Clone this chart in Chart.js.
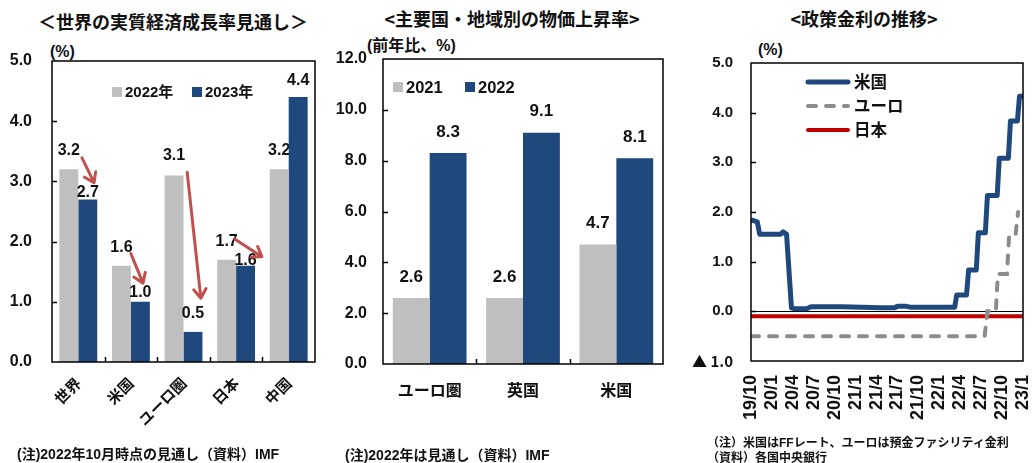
<!DOCTYPE html>
<html lang="ja">
<head>
<meta charset="utf-8">
<title>世界経済・物価・政策金利</title>
<script src="https://cdn.jsdelivr.net/npm/chart.js@4"></script>
<style>
  html, body { margin: 0; padding: 0; background: #fff; }
  body {
    width: 1032px; height: 463px; position: relative; overflow: hidden;
    font-family: "Liberation Sans", "Noto Sans CJK JP", sans-serif;
    font-weight: bold; color: #111;
  }
  .t { position: absolute; white-space: nowrap; line-height: 1; }
  .title { font-family: "Noto Sans CJK JP", sans-serif; font-size: 18px; transform: translateX(-50%); }
  canvas { position: absolute; }
</style>
</head>
<body>

<div class="t title" style="left:173px;top:12px">＜世界の実質経済成長率見通し＞</div>
<div class="t title" style="left:512px;top:9px">&lt;主要国・地域別の物価上昇率&gt;</div>
<div class="t title" style="left:864px;top:9px">&lt;政策金利の推移&gt;</div>

<div class="t" style="left:50px;top:44px;font-size:16px">(%)</div>
<div class="t" style="left:367px;top:38px;font-size:16px">(前年比、%)</div>
<div class="t" style="left:758px;top:42px;font-size:16px">(%)</div>

<canvas id="c-growth" width="330" height="420" style="left:0;top:40px"></canvas>
<canvas id="c-cpi" width="347" height="420" style="left:333px;top:40px"></canvas>
<canvas id="c-rate" width="352" height="423" style="left:680px;top:40px"></canvas>

<div class="t" style="left:17px;top:447px;font-size:14px">(注)2022年10月時点の見通し（資料）IMF</div>
<div class="t" style="left:345px;top:448px;font-size:14px">(注)2022年は見通し（資料）IMF</div>
<div class="t" style="left:707px;top:437px;font-size:12px">（注）米国はFFレート、ユーロは預金ファシリティ金利</div>
<div class="t" style="left:707px;top:452px;font-size:12px">（資料）各国中央銀行</div>

<script>
// ---- データ ----
// 世界の実質経済成長率見通し（%）
const GROWTH_REGIONS = ["世界", "米国", "ユーロ圏", "日本", "中国"];
const GROWTH_2022 = [3.2, 1.6, 3.1, 1.7, 3.2];
const GROWTH_2023 = [2.7, 1.0, 0.5, 1.6, 4.4];

// 主要国・地域別の物価上昇率（前年比、%）
const CPI_REGIONS = ["ユーロ圏", "英国", "米国"];
const CPI_2021 = [2.6, 2.6, 4.7];
const CPI_2022 = [8.3, 9.1, 8.1];

// 政策金利（x = 2019年10月からの月数, y = %）
const RATE_TICKS = ["19/10", "20/1", "20/4", "20/7", "20/10", "21/1", "21/4",
                    "21/7", "21/10", "22/1", "22/4", "22/7", "22/10", "23/1"];
const RATE_US = [
  [0, 1.84], [0.9, 1.8], [1.25, 1.55], [4.2, 1.55], [4.6, 1.6], [5.1, 1.55],
  [5.8, 0.07], [6.3, 0.05], [8.0, 0.05], [8.6, 0.09], [13, 0.09], [16, 0.08],
  [18.5, 0.07], [20.5, 0.07], [21, 0.1], [22.3, 0.1], [23, 0.08], [29.2, 0.08],
  [29.5, 0.33], [30.9, 0.33], [31.2, 0.83], [32.3, 0.83], [32.6, 1.58],
  [33.6, 1.58], [33.9, 2.33], [35.3, 2.33], [35.6, 3.08], [36.9, 3.08],
  [37.2, 3.83], [38.2, 3.83], [38.5, 4.33], [39, 4.33]
];
const RATE_EURO = [
  [0, -0.5], [33.5, -0.5], [33.9, 0], [35.1, 0], [35.4, 0.75], [36.7, 0.75],
  [37.0, 1.5], [37.9, 1.5], [38.3, 2.0]
];
const RATE_JP = [[0, -0.1], [39, -0.1]];

// ---- 共通 ----
const FONT = "'Liberation Sans', 'Noto Sans CJK JP', sans-serif";
const CJK = "'Noto Sans CJK JP', sans-serif";
const GREY = "#bfbfbf";
const NAVY = "#1f497d";
Chart.defaults.font.family = FONT;
Chart.defaults.font.weight = "bold";
Chart.defaults.color = "#111";
Chart.defaults.animation = false;

const toXY = (arr) => arr.map(([x, y]) => ({ x, y }));

// 軸の大きさを固定して、ラベル分の余白を取らせない
const fixSize = (w, h) => (s) => {
  if (w != null) s.width = w;
  if (h != null) s.height = h;
  s.paddingTop = s.paddingBottom = s.paddingLeft = s.paddingRight = 0;
};

// 枠線と内向きの目盛り
const framePlugin = {
  id: "frame",
  afterDraw(chart, args, o) {
    const { ctx, chartArea: a, scales } = chart;
    ctx.save();
    ctx.strokeStyle = "#000";
    ctx.lineWidth = 1.5;
    ctx.beginPath();
    scales.y.ticks.forEach(t => {
      const y = Math.round(scales.y.getPixelForValue(t.value)) + 0.5;
      if (y <= a.top + 1 || y >= a.bottom - 1) return;
      ctx.moveTo(a.left, y); ctx.lineTo(a.left + 5, y);
    });
    if (o.catTicks) {
      const n = chart.data.labels.length;
      for (let i = 0; i < n - 1; i++) {
        const x = Math.round(scales.x.getPixelForValue(i + 0.5)) + 0.5;
        ctx.moveTo(x, a.bottom); ctx.lineTo(x, a.bottom - 5);
      }
    }
    ctx.stroke();
    ctx.strokeRect(a.left, a.top, a.right - a.left, a.bottom - a.top);
    ctx.restore();
  }
};

// 棒の上の数値
const valueLabels = {
  id: "valueLabels",
  draw(chart, o, under) {
    const ctx = chart.ctx;
    ctx.save();
    ctx.font = o.font;
    ctx.fillStyle = "#111";
    ctx.textAlign = "center";
    ctx.textBaseline = "middle";
    chart.data.datasets.forEach((ds, di) => {
      if (!!(o.under || []).includes(di) !== under) return;
      chart.getDatasetMeta(di).data.forEach((bar, i) => {
        const lift = o.lift ? o.lift[di][i] : o.defaultLift;
        ctx.fillText(ds.data[i].toFixed(1), bar.x, bar.y - lift);
      });
    });
    ctx.restore();
  },
  beforeDatasetsDraw(chart, args, o) { this.draw(chart, o, true); },
  afterDatasetsDraw(chart, args, o) { this.draw(chart, o, false); }
};

// 枠内の凡例
const inlineLegend = {
  id: "inlineLegend",
  afterDraw(chart, args, o) {
    const { ctx, chartArea: a } = chart;
    ctx.save();
    ctx.font = o.font;
    ctx.textBaseline = "middle";
    ctx.textAlign = "left";
    chart.data.datasets.forEach((ds, i) => {
      const x = a.left + o.x + (o.dx || 0) * i;
      const y = a.top + o.y + (o.dy || 0) * i;
      if (o.kind === "box") {
        ctx.fillStyle = ds.backgroundColor;
        ctx.fillRect(x, y - o.box / 2, o.box, o.box);
        ctx.fillStyle = "#111";
        ctx.fillText(ds.label, x + o.box + 3, y + 1);
      } else {
        ctx.strokeStyle = ds.borderColor;
        ctx.lineWidth = ds.borderWidth;
        ctx.lineCap = "round";
        ctx.setLineDash(ds.borderDash || []);
        ctx.beginPath(); ctx.moveTo(x, y); ctx.lineTo(x + o.len, y); ctx.stroke();
        ctx.setLineDash([]);
        ctx.fillStyle = "#111";
        ctx.fillText(ds.label, x + o.len + 6, y + 1);
      }
    });
    ctx.restore();
  }
};

// 矢印（x = カテゴリ位置, y = 値）
const arrows = {
  id: "arrows",
  afterDatasetsDraw(chart, args, o) {
    const { ctx, scales: { x: sx, y: sy } } = chart;
    ctx.save();
    ctx.strokeStyle = o.color;
    ctx.lineWidth = 3;
    ctx.lineCap = "round";
    ctx.lineJoin = "round";
    o.list.forEach(([c1, v1, c2, v2]) => {
      const x1 = sx.getPixelForValue(c1), y1 = sy.getPixelForValue(v1);
      const x2 = sx.getPixelForValue(c2), y2 = sy.getPixelForValue(v2);
      const ang = Math.atan2(y2 - y1, x2 - x1), h = 11, w = 0.6;
      ctx.beginPath();
      ctx.moveTo(x1, y1); ctx.lineTo(x2, y2);
      ctx.moveTo(x2 - h * Math.cos(ang - w), y2 - h * Math.sin(ang - w));
      ctx.lineTo(x2, y2);
      ctx.lineTo(x2 - h * Math.cos(ang + w), y2 - h * Math.sin(ang + w));
      ctx.stroke();
    });
    ctx.restore();
  }
};

// ---- 世界の実質経済成長率見通し ----
new Chart(document.getElementById("c-growth"), {
  type: "bar",
  data: {
    labels: GROWTH_REGIONS,
    datasets: [
      { label: "2022年", data: GROWTH_2022, backgroundColor: GREY },
      { label: "2023年", data: GROWTH_2023, backgroundColor: NAVY }
    ]
  },
  options: {
    responsive: false, devicePixelRatio: 1,
    layout: { padding: { top: 21, right: 15, left: 0, bottom: 0 } },
    categoryPercentage: 0.72, barPercentage: 1.0,
    plugins: {
      legend: { display: false }, tooltip: { enabled: false },
      frame: { catTicks: true },
      valueLabels: {
        font: "bold 16px " + FONT, under: [0],
        lift: [[19, 18, 20, 18, 19], [7, 9, 18, 5, 17]]
      },
      inlineLegend: { kind: "box", font: "bold 15px " + FONT, x: 60, y: 31, dx: 80, box: 10 },
      arrows: {
        color: "#c0504d",
        list: [
          [0.07, 3.39, 0.30, 2.98],
          [1.00, 1.80, 1.23, 1.31],
          [2.07, 3.15, 2.33, 1.06],
          [2.98, 2.04, 3.49, 1.75]
        ]
      }
    },
    scales: {
      x: {
        grid: { display: false, drawTicks: false }, border: { display: false },
        ticks: { font: { size: 15, family: CJK }, minRotation: 45, maxRotation: 45, padding: 12 },
        afterFit: fixSize(null, 98)
      },
      y: {
        min: 0, max: 5,
        grid: { display: false, drawTicks: false }, border: { display: false },
        ticks: { stepSize: 1, font: { size: 16 }, padding: 20, callback: (v) => v.toFixed(1) },
        afterFit: fixSize(52, null)
      }
    }
  },
  plugins: [framePlugin, valueLabels, inlineLegend, arrows]
});

// ---- 主要国・地域別の物価上昇率 ----
new Chart(document.getElementById("c-cpi"), {
  type: "bar",
  data: {
    labels: CPI_REGIONS,
    datasets: [
      { label: "2021", data: CPI_2021, backgroundColor: GREY },
      { label: "2022", data: CPI_2022, backgroundColor: NAVY }
    ]
  },
  options: {
    responsive: false, devicePixelRatio: 1,
    layout: { padding: { top: 19, right: 17, left: 0, bottom: 0 } },
    categoryPercentage: 0.79, barPercentage: 1.0,
    plugins: {
      legend: { display: false }, tooltip: { enabled: false },
      frame: { catTicks: true },
      valueLabels: { font: "bold 17px " + FONT, defaultLift: 21 },
      inlineLegend: { kind: "box", font: "bold 16.5px " + FONT, x: 10, y: 28, dx: 72, box: 10 }
    },
    scales: {
      x: {
        grid: { display: false, drawTicks: false }, border: { display: false },
        ticks: { font: { size: 16, family: CJK }, maxRotation: 0, padding: 16 },
        afterFit: fixSize(null, 96)
      },
      y: {
        min: 0, max: 12,
        grid: { display: false, drawTicks: false }, border: { display: false },
        ticks: { stepSize: 2, font: { size: 16 }, padding: 16, callback: (v) => v.toFixed(1) },
        afterFit: fixSize(50, null)
      }
    }
  },
  plugins: [framePlugin, valueLabels, inlineLegend]
});

// ---- 政策金利の推移 ----
new Chart(document.getElementById("c-rate"), {
  type: "line",
  data: {
    datasets: [
      { label: "米国", data: toXY(RATE_US), borderColor: NAVY, borderWidth: 5,
        borderJoinStyle: "round", pointRadius: 0 },
      { label: "ユーロ", data: toXY(RATE_EURO), borderColor: "#8c8c8c", borderWidth: 4,
        borderDash: [8, 10], borderCapStyle: "round", pointRadius: 0 },
      { label: "日本", data: toXY(RATE_JP), borderColor: "#c00000", borderWidth: 4, pointRadius: 0 }
    ]
  },
  options: {
    responsive: false, devicePixelRatio: 1,
    layout: { padding: { top: 23, right: 9, left: 0, bottom: 0 } },
    plugins: {
      legend: { display: false }, tooltip: { enabled: false },
      frame: { catTicks: false },
      inlineLegend: { kind: "line", font: "bold 16.5px " + FONT, x: 57, y: 19, dy: 24, len: 40 }
    },
    scales: {
      x: {
        type: "linear", min: 0, max: 39,
        grid: { display: false, drawTicks: false }, border: { display: false },
        ticks: {
          stepSize: 3, autoSkip: false, font: { size: 18 }, minRotation: 90, maxRotation: 90, padding: 14,
          callback: (v) => RATE_TICKS[v / 3]
        },
        afterFit: fixSize(null, 102)
      },
      y: {
        min: -1, max: 5,
        grid: { drawTicks: false, lineWidth: 1, color: (c) => c.tick && c.tick.value === 0 ? "#000" : "rgba(0,0,0,0)" },
        border: { display: false },
        ticks: {
          stepSize: 1, padding: 18,
          font: (c) => c.tick && c.tick.value < 0 ? { size: 15, family: CJK } : { size: 15 },
          callback: (v) => v < 0 ? "▲ " + Math.abs(v).toFixed(1) : v.toFixed(1)
        },
        afterFit: fixSize(71, null)
      }
    }
  },
  plugins: [framePlugin, inlineLegend]
});
</script>
</body>
</html>
